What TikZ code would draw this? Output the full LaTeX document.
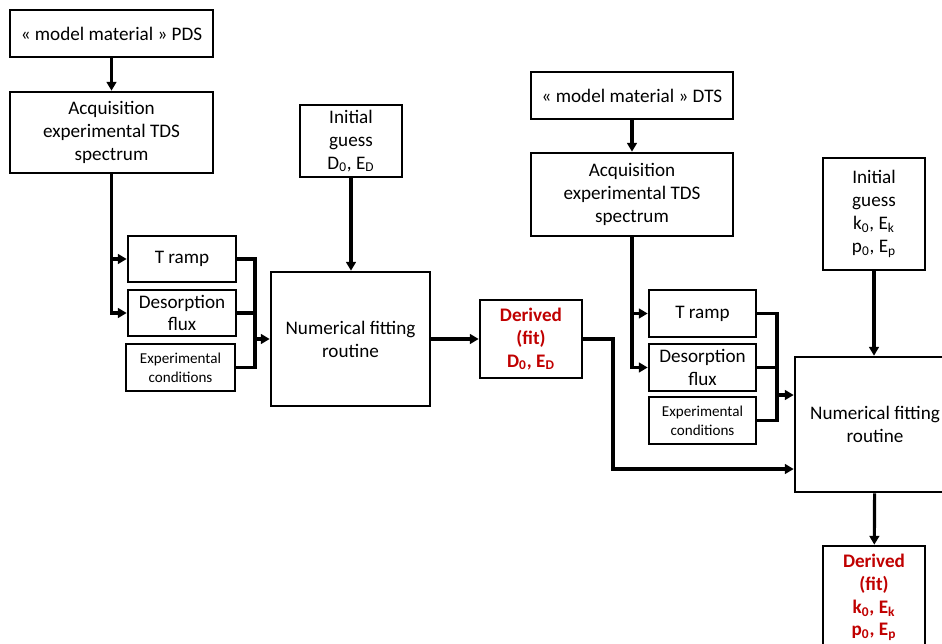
\documentclass[tikz,border=0pt]{standalone}
\usepackage{fontspec}
\setmainfont{Carlito}
\usetikzlibrary{arrows.meta}
\definecolor{fitred}{RGB}{192,0,0}
\tikzset{
  box/.style={draw, line width=1.5pt, align=center, inner sep=0pt, font=\fontsize{10.9}{13}\selectfont},
  smallbox/.style={box, font=\fontsize{8.6}{10.8}\selectfont},
  fitbox/.style={box, text=fitred, font=\fontsize{10.9}{13}\selectfont\bfseries},
  link/.style={line width=1.8pt},
  feed/.style={link, -{Triangle[length=5pt,width=5.5pt]}}
}
\begin{document}
\begin{tikzpicture}[x=0.02cm, y=-0.02cm]
			%%%%% START %%%%%
			\useasboundingbox (0,0) rectangle (942,643);
			\clip (0,0) rectangle (942,643);
			
			% first chain (PDS)
			\node[box, minimum width=4.06cm, minimum height=0.94cm] (pds) at (111.5,33.5) {« model material » PDS};
			\node[box, minimum width=4.06cm, minimum height=1.62cm] (acqP) at (111.5,132.5) {Acquisition\\experimental TDS\\spectrum};
			\node[box, minimum width=2.04cm, minimum height=1.44cm] (guessD) at (351,141) {Initial\\guess\\D\textsubscript{0}, E\textsubscript{D}};
			\node[box, minimum width=2.16cm, minimum height=0.92cm] (rampP) at (182,259) {T ramp};
			\node[box, minimum width=2.16cm, minimum height=0.92cm] (fluxP) at (182,313) {Desorption\\flux};
			\node[smallbox, minimum width=2.18cm, minimum height=0.94cm] (condP) at (180.5,367.5) {Experimental\\conditions};
			\node[box, minimum width=3.18cm, minimum height=2.68cm] (fitP) at (350.5,339) {Numerical fitting\\routine};
			\node[fitbox, minimum width=2.04cm, minimum height=1.56cm] (derD) at (531,339) {Derived\\(fit)\\D\textsubscript{0}, E\textsubscript{D}};
			
			% second chain (DTS)
			\node[box, minimum width=4.04cm, minimum height=0.94cm] (dts) at (632,95.5) {« model material » DTS};
			\node[box, minimum width=4.04cm, minimum height=1.66cm] (acqD) at (632,194.5) {Acquisition\\experimental TDS\\spectrum};
			\node[box, minimum width=2.04cm, minimum height=2.24cm] (guessK) at (874,214) {Initial\\guess\\k\textsubscript{0}, E\textsubscript{k}\\p\textsubscript{0}, E\textsubscript{p}};
			\node[box, minimum width=2.14cm, minimum height=0.94cm] (rampD) at (702.5,313.5) {T ramp};
			\node[box, minimum width=2.14cm, minimum height=0.94cm] (fluxD) at (702.5,367.5) {Desorption\\flux};
			\node[smallbox, minimum width=2.14cm, minimum height=0.94cm] (condD) at (702.5,420.5) {Experimental\\conditions};
			\node[box, minimum width=3.2cm, minimum height=2.7cm] (fitD) at (875,424.5) {Numerical fitting\\routine};
			\node[fitbox, minimum width=2.04cm, minimum height=2.06cm] (derK) at (874,597.5) {Derived\\(fit)\\k\textsubscript{0}, E\textsubscript{k}\\p\textsubscript{0}, E\textsubscript{p}};
			
			\coordinate (joinP) at (255,339);
			\coordinate (joinD) at (777,395);
			\coordinate (bend) at (613,469);
			
			% connectors, first chain
			\draw[feed] (pds) -- (acqP);
			\draw[feed] (acqP.south) |- (fluxP.west);
			\draw[feed] (acqP.south |- rampP.west) -- (rampP.west);
			\draw[link] (rampP.east) -| (joinP) |- (condP.east);
			\draw[link] (fluxP.east) -- (fluxP.east -| joinP);
			\draw[feed] (joinP) -- (fitP.west |- joinP);
			\draw[feed] (guessD) -- (guessD |- fitP.north);
			\draw[feed] (fitP) -- (derD);
			\draw[feed] (derD.east) -| (bend) -- (fitD.west |- bend);
			
			% connectors, second chain
			\draw[feed] (dts) -- (acqD);
			\draw[feed] (acqD.south) |- (fluxD.west);
			\draw[feed] (acqD.south |- rampD.west) -- (rampD.west);
			\draw[link] (rampD.east) -| (joinD) |- (condD.east);
			\draw[link] (fluxD.east) -- (fluxD.east -| joinD);
			\draw[feed] (joinD) -- (fitD.west |- joinD);
			\draw[feed] (guessK) -- (guessK |- fitD.north);
			\draw[feed] (fitD) -- (derK);
			
			%%%%% END %%%%%
\end{tikzpicture}
\end{document}
